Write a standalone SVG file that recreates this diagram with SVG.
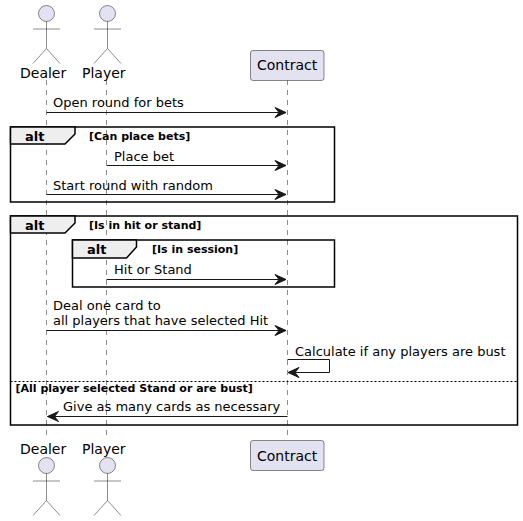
<svg xmlns="http://www.w3.org/2000/svg" width="523" height="521" viewBox="0 0 523 521">
<style>
text{font-family:"DejaVu Sans",sans-serif;fill:#000}
.m{font-size:13px}
.p{font-size:14px}
.a{font-size:13px;font-weight:bold}
.g{font-size:11px;font-weight:bold}
.life{stroke:#181818;stroke-width:.5;stroke-dasharray:5 5;fill:none}
.act{fill:#E2E2F0;stroke:#181818;stroke-width:.5}
.lim{fill:none;stroke:#181818;stroke-width:.5}
.msg{stroke:#181818;stroke-width:1;fill:none}
.head{fill:#181818;stroke:#181818}
.fr{fill:none;stroke:#000;stroke-width:1.5}
.tab{fill:#EEEEEE;stroke:#000;stroke-width:1.5}
</style>
<defs>
<marker id="ar" markerUnits="userSpaceOnUse" markerWidth="14" markerHeight="12" refX="11" refY="5" orient="auto" overflow="visible">
<path d="M0,0 L11,5 L0,10 L4,5 Z" fill="#181818" stroke="#181818" stroke-width="1"/>
</marker>
</defs>
<g id="lifelines">
<line class="life" x1="46.5" y1="80" x2="46.5" y2="438"/>
<line class="life" x1="106.5" y1="80" x2="106.5" y2="438"/>
<line class="life" x1="287.5" y1="80" x2="287.5" y2="438"/>
</g>
<g id="frame-alt1">
<rect class="fr" x="10.5" y="127" width="324" height="75"/>
<path class="tab" d="M10.5,127H75V134L65,144H10.5Z"/>
<text class="a" x="25" y="141">alt</text>
<text class="g" x="89" y="140">[Can place bets]</text>
</g>
<g id="frame-alt2">
<rect class="fr" x="10.5" y="216" width="507" height="209"/>
<path class="tab" d="M10.5,216H75V223L65,233H10.5Z"/>
<text class="a" x="25" y="230">alt</text>
<text class="g" x="89" y="229">[Is in hit or stand]</text>
<line x1="10.5" y1="381.5" x2="517" y2="381.5" stroke="#000" stroke-width="1" stroke-dasharray="2 2"/>
<text class="g" x="15.5" y="392">[All player selected Stand or are bust]</text>
</g>
<g id="frame-alt3">
<rect class="fr" x="72.5" y="240" width="262" height="47"/>
<path class="tab" d="M72.5,240H136.5V247L126.5,258H72.5Z"/>
<text class="a" x="87" y="254">alt</text>
<text class="g" x="152" y="253">[Is in session]</text>
</g>
<g id="connectors">
<line class="msg" x1="46.5" y1="112.5" x2="286" y2="112.5" marker-end="url(#ar)"/>
<line class="msg" x1="106.5" y1="165.5" x2="286" y2="165.5" marker-end="url(#ar)"/>
<line class="msg" x1="46.5" y1="194.5" x2="286" y2="194.5" marker-end="url(#ar)"/>
<line class="msg" x1="106.5" y1="279.5" x2="286" y2="279.5" marker-end="url(#ar)"/>
<line class="msg" x1="46.5" y1="330.5" x2="286" y2="330.5" marker-end="url(#ar)"/>
<path class="msg" d="M287.5,359.5H329.5V372.5H288" marker-end="url(#ar)"/>
<line class="msg" x1="287.5" y1="416.5" x2="47.5" y2="416.5" marker-end="url(#ar)"/>
<text class="m" x="53" y="107">Open round for bets</text>
<text class="m" x="114" y="161">Place bet</text>
<text class="m" x="53" y="190">Start round with random</text>
<text class="m" x="114" y="274">Hit or Stand</text>
<text class="m" x="53" y="310">Deal one card to</text>
<text class="m" x="53" y="325">all players that have selected Hit</text>
<text class="m" x="295" y="356">Calculate if any players are bust</text>
<text class="m" x="63" y="411">Give as many cards as necessary</text>
</g>
<g id="dealer-top">
<circle class="act" cx="46.5" cy="13.5" r="8"/>
<path class="lim" d="M46.5,21.5V48.5M33,29H60M46.5,48.5L33,63.5M46.5,48.5L60,63.5"/>
<text class="p" x="20" y="78">Dealer</text>
</g>
<g id="player-top">
<circle class="act" cx="107.5" cy="13.5" r="8"/>
<path class="lim" d="M107.5,21.5V48.5M94,29H121M107.5,48.5L94,63.5M107.5,48.5L121,63.5"/>
<text class="p" x="82" y="78">Player</text>
</g>
<g id="contract-top">
<rect class="act" x="250.5" y="50.5" width="73.5" height="30" rx="2.5"/>
<text class="p" x="257" y="70">Contract</text>
</g>
<g id="dealer-bottom">
<text class="p" x="20" y="454">Dealer</text>
<circle class="act" cx="46.5" cy="465.5" r="8"/>
<path class="lim" d="M46.5,473.5V500.5M33,481H60M46.5,500.5L33,515.5M46.5,500.5L60,515.5"/>
</g>
<g id="player-bottom">
<text class="p" x="82" y="454">Player</text>
<circle class="act" cx="107.5" cy="465.5" r="8"/>
<path class="lim" d="M107.5,473.5V500.5M94,481H121M107.5,500.5L94,515.5M107.5,500.5L121,515.5"/>
</g>
<g id="contract-bottom">
<rect class="act" x="250.5" y="440.5" width="73.5" height="30" rx="2.5"/>
<text class="p" x="257" y="461">Contract</text>
</g>
</svg>
